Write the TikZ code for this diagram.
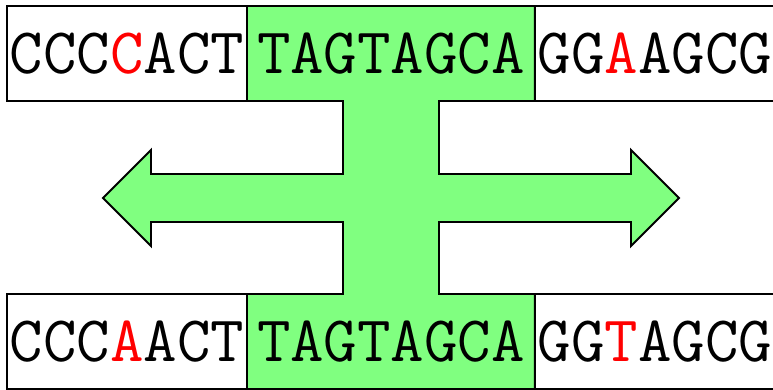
\documentclass[tikz,border=0pt]{standalone}
\usepackage{fontspec}
\usetikzlibrary{positioning,backgrounds}
\definecolor{regioncolor}{HTML}{80FF80}
\tikzset{
  seq/.style={draw,line width=1.1pt,inner sep=0pt,outer sep=0pt,minimum width=4.8cm,minimum height=1.9cm,
    font=\fontsize{37}{40}\selectfont\ttfamily},
  core/.style={seq,draw=none,minimum width=5.76cm}
}
\newcommand{\mut}[1]{\textcolor{red}{#1}}
\begin{document}
\begin{tikzpicture}[x=0.02cm,y=-0.02cm]
 \useasboundingbox (0,0) rectangle (773,389);
 % upper sequence
 \node [seq] (upL) at (127,53.5) {CCC\mut{C}ACT};
 \node [core,right=0pt of upL] (upM) {TAGTAGCA};
 \node [seq,right=0pt of upM] (upR) {GG\mut{A}AGCG};
 % lower sequence
 \node [seq] (loL) at (127,341.5) {CCC\mut{A}ACT};
 \node [core,right=0pt of loL] (loM) {TAGTAGCA};
 \node [seq,right=0pt of loM] (loR) {GG\mut{T}AGCG};
 % shared region with the two arrows
 \begin{scope}[on background layer]
 \draw [line width=1.1pt,fill=regioncolor]
   (upM.north west) -- (upM.north east) -- (upM.south east) -- (439,101)
   -- (439,174) -- (631,174) -- (631,150) -- (679,198) -- (631,246) -- (631,222)
   -- (439,222) -- (439,294) -- (loM.north east) -- (loM.south east)
   -- (loM.south west) -- (loM.north west) -- (343,294) -- (343,222)
   -- (151,222) -- (151,246) -- (103,198) -- (151,150) -- (151,174)
   -- (343,174) -- (343,101) -- (upM.south west) -- cycle;
 \end{scope}
\end{tikzpicture}
\end{document}
